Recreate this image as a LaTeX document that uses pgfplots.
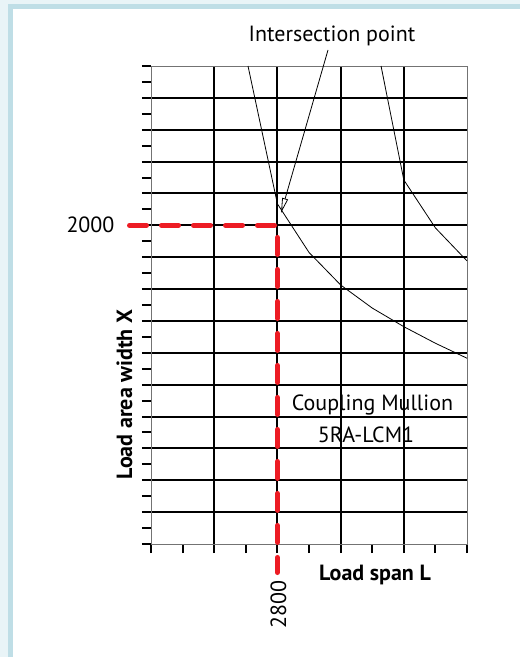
\documentclass[border=0pt]{standalone}
\usepackage{pgfplots}
\pgfplotsset{compat=1.18}
\usetikzlibrary{arrows.meta}
\usepackage{fontspec}
\setmainfont{PT Sans}
\definecolor{frameblue}{RGB}{191,222,230}
\definecolor{framelight}{RGB}{233,244,247}
\definecolor{redline}{RGB}{237,28,36}
\begin{document}
\begin{tikzpicture}[x=1pt,y=1pt]
\useasboundingbox (0,0) rectangle (520,657);
\fill[white] (0,0) rectangle (520,657);
\fill[framelight] (0,0) rectangle (8,657);
\fill[framelight] (0,653) rectangle (520,657);
\fill[frameblue] (8,0) rectangle (13,648);
\fill[frameblue] (8,648) rectangle (520,653);
\begin{axis}[
  at={(151pt,113pt)}, anchor=south west,
  scale only axis, width=316pt, height=478pt,
  xmin=2000, xmax=4000, ymin=0, ymax=3000,
  xtick={2000,2200,...,4000}, ytick={0,100,...,3000},
  xticklabels={}, yticklabels={},
  minor xtick={2400,2800,3200,3600},
  minor ytick={200,400,...,2800},
  xminorgrids, yminorgrids,
  minor grid style={black, line width=2pt},
  minor tick length=0pt,
  major tick length=9pt,
  tick align=outside,
  tick pos=left,
  every tick/.style={black, line width=2pt},
  axis line style={draw=black!55, line width=1pt},
  clip=false,
]
% load curves
\addplot[black, line width=0.8pt] coordinates {
  (2614,3000) (2800,2135) (3000,1830) (3200,1626) (3400,1481) (3600,1364) (3800,1260) (4000,1166)
};
\addplot[black, line width=0.8pt] coordinates {
  (3456,3000) (3600,2285) (3800,1984) (4000,1777)
};
% reading guide
\addplot[redline, line width=5pt, line cap=round, line join=round, dash pattern=on 17pt off 15pt] coordinates {
  (1864,2000) (2800,2000) (2800,-179)
};
\end{axis}
\draw[black, line width=0.8pt, -{Triangle[open, length=15pt, width=6pt]}] (328,607) -- (281,444);
\node[anchor=base, font=\fontsize{22}{26}\selectfont] at (332,615) {Intersection point};
\node[anchor=base, font=\fontsize{22}{26}\selectfont] at (372.5,246) {Coupling Mullion};
\node[anchor=base, font=\fontsize{22}{26}\selectfont] at (366,214) {5RA-LCM1};
\node[anchor=base, font=\fontsize{22}{26}\selectfont\bfseries] at (375,76) {Load span L};
\node[anchor=base, rotate=90, font=\fontsize{22}{26}\selectfont\bfseries] at (132,262.5) {Load area width X};
\node[anchor=base, rotate=90, font=\fontsize{22}{26}\selectfont] at (286,52.5) {2800};
\node[anchor=base east, font=\fontsize{22}{26}\selectfont] at (118,424) {2000};
\end{tikzpicture}
\end{document}
